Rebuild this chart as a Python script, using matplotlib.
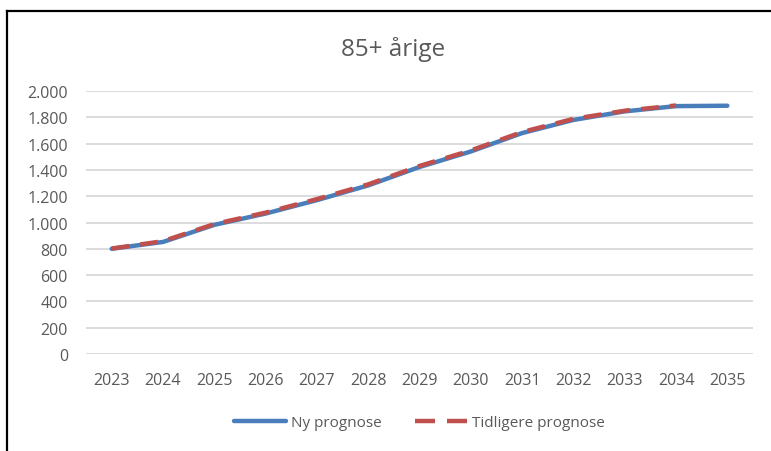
import matplotlib.pyplot as plt
from matplotlib.lines import Line2D

years = ['2023', '2024', '2025', '2026', '2027', '2028', '2029',
         '2030', '2031', '2032', '2033', '2034', '2035']
ny_prognose = [800, 852, 982, 1068, 1170, 1282, 1422,
               1540, 1680, 1780, 1845, 1885, 1888]
tidligere_prognose = [802, 858, 988, 1075, 1178, 1290, 1430,
                      1548, 1688, 1788, 1850, 1890]
yticks = [0, 200, 400, 600, 800, 1000, 1200, 1400, 1600, 1800, 2000]
ytick_labels = ['0', '200', '400', '600', '800', '1.000', '1.200',
                '1.400', '1.600', '1.800', '2.000']

plt.rcParams['font.family'] = ['Open Sans', 'DejaVu Sans']
grey = '#595959'
blue = '#4A7EBB'
red = '#C0504D'

W, H = 771, 452
fig = plt.figure(figsize=(W / 100, H / 100), dpi=100)
ax = fig.add_axes([86 / W, (H - 355) / H, (753 - 86) / W, (355 - 92) / H])

x = list(range(len(years)))
ax.plot(x, ny_prognose, color=blue, lw=3.2, solid_capstyle='round', zorder=3)
ax.plot(x[:len(tidligere_prognose)], tidligere_prognose, color=red,
        lw=3.2, dashes=(4, 2.5), zorder=4)

ax.set_xlim(-0.5, len(years) - 0.5)
ax.set_ylim(0, 2000)
ax.set_xticks(x)
ax.set_xticklabels(years)
ax.set_yticks(yticks)
ax.set_yticklabels(ytick_labels)
ax.tick_params(length=0, labelsize=11.5, colors=grey, pad=13)
ax.tick_params(axis='x', pad=13)
ax.grid(axis='y', color='#D9D9D9', lw=1.3)
ax.set_axisbelow(True)
for s in ax.spines.values():
    s.set_visible(False)

fig.text(393 / W, 1 - 50 / H, '85+ årige', ha='center', va='center',
         fontsize=17.5, color=grey)

# legend handles drawn like Excel's (two long dashes for the old forecast)
h_ny = Line2D([], [], color=blue, lw=3.2, solid_capstyle='round')
h_tid = Line2D([], [], color=red, lw=3.2, dashes=(4.5, 2.7))
ax.legend([h_ny, h_tid], ['Ny prognose', 'Tidligere prognose'],
          loc='center', bbox_to_anchor=(0.5, -(424 - 355) / (355 - 92)),
          ncol=2, frameon=False, fontsize=11, labelcolor=grey,
          handlelength=3.4, columnspacing=2.2, handletextpad=0.3)

# outer frame (left and top edges only visible)
fig.add_artist(Line2D([7 / W, 7 / W], [0, 1 - 12 / H], color='black',
                      lw=1.6, transform=fig.transFigure))
fig.add_artist(Line2D([7 / W, 1], [1 - 12 / H, 1 - 12 / H], color='black',
                      lw=1.6, transform=fig.transFigure))

fig.savefig('out.png', dpi=100)
